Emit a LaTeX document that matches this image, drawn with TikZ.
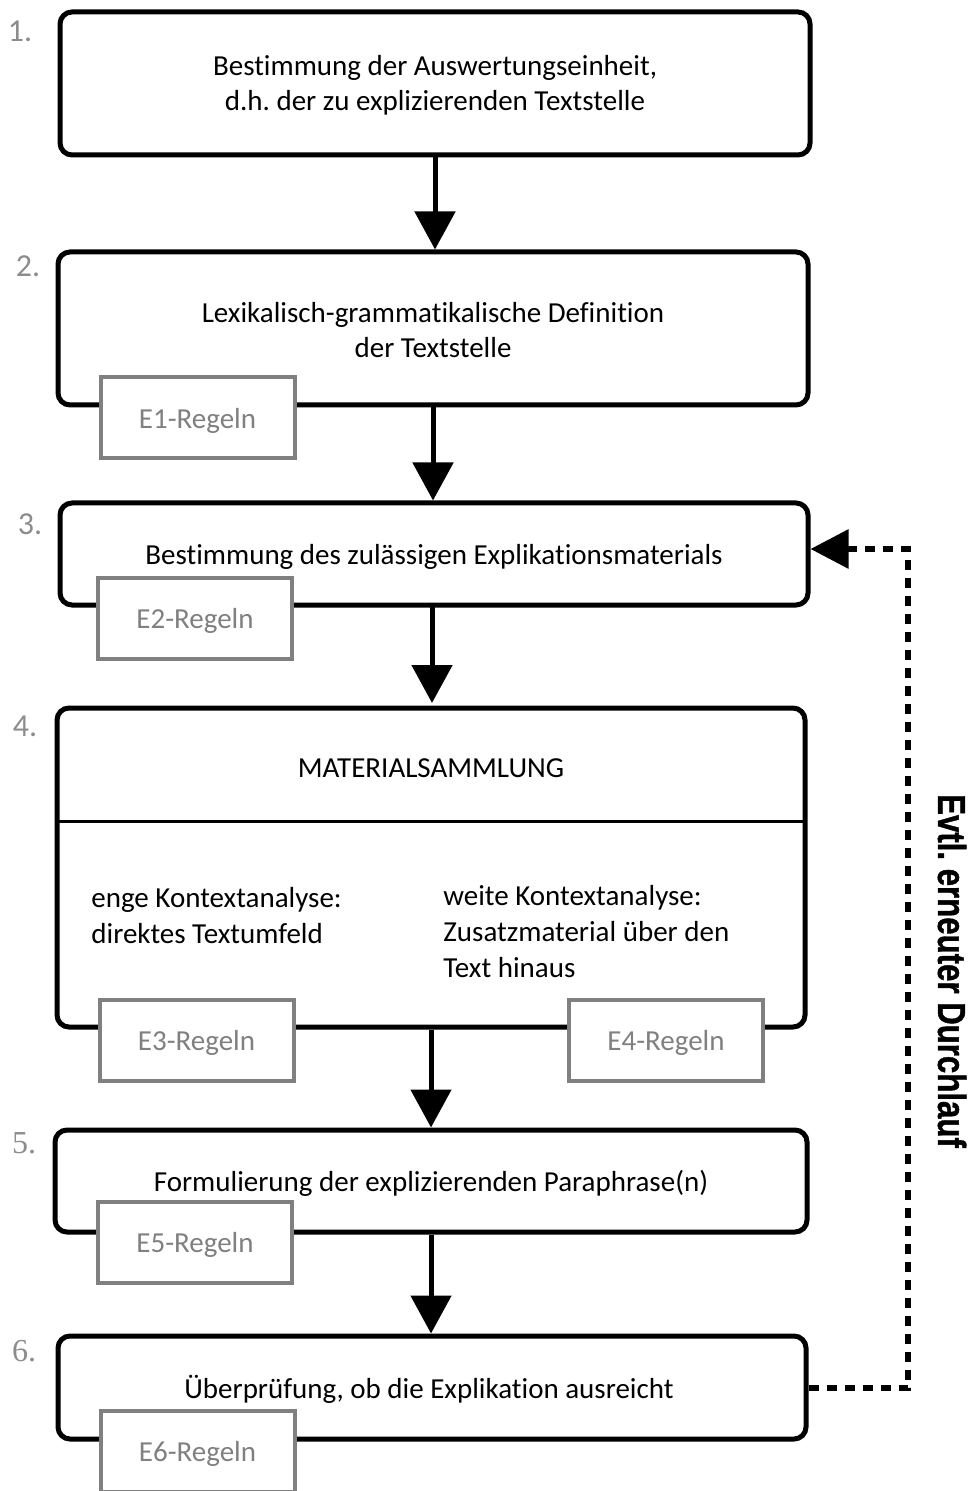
\documentclass[tikz,border=0pt]{standalone}
\usepackage{fontspec}
\setmainfont{Carlito}[Ligatures=NoCommon]
\newfontfamily\rotfont[FakeBold=1.2]{Liberation Sans Bold}
\newfontfamily\numserif{Liberation Serif}
\usetikzlibrary{arrows.meta}
\definecolor{egray}{RGB}{128,128,128}
\definecolor{ngray}{RGB}{140,140,140}
\tikzset{
  mainbox/.style={draw=black, line width=2.5pt, rounded corners=6pt, fill=white, inner sep=0pt},
  ebox/.style={draw=egray, line width=2pt, fill=white, minimum width=97pt, minimum height=40.5pt, inner sep=0pt, text=egray, font=\fontsize{14.5}{17.5}\selectfont, text depth=0pt},
  txt/.style={align=center, font=\fontsize{14.5}{17.5}\selectfont, inner sep=0pt, yshift=-1pt},
  ltxt/.style={align=left, font=\fontsize{14.5}{18}\selectfont, inner sep=0pt},
  num/.style={text=ngray, font=\fontsize{16}{16}\selectfont, inner sep=0pt},
  snum/.style={text=ngray, font=\numserif\fontsize{16}{16}\selectfont, inner sep=0pt},
  arr/.style={line width=2.5pt, -{Triangle[width=20pt,length=19pt]}},
  darr/.style={line width=3pt, dash pattern=on 5pt off 4pt, -{Triangle[width=19pt,length=19pt]}},
}
\frenchspacing
\begin{document}
\begin{tikzpicture}[x=0.5pt, y=-0.5pt]
\useasboundingbox (0,0) rectangle (968,1491);
% main boxes
\node[mainbox, minimum width=375pt, minimum height=71.5pt] (b1) at (435,83.5) {};
\node[mainbox, minimum width=375pt, minimum height=76.5pt] (b2) at (433,328.5) {};
\node[mainbox, minimum width=374pt, minimum height=51pt] (b3) at (434,554) {};
\node[mainbox, minimum width=374pt, minimum height=159.5pt] (b4) at (431,867.5) {};
\node[mainbox, minimum width=376pt, minimum height=51pt] (b5) at (431,1181) {};
\node[mainbox, minimum width=374pt, minimum height=51.5pt] (b6) at (432,1387.5) {};
% divider in box 4
\coordinate (d1) at (57,821);
\coordinate (d2) at (805,821);
\draw[line width=1.5pt] (d1) -- (d2);
% texts
\node[txt] (t1) at (435,83.5) {Bestimmung der Auswertungseinheit,\\d.h. der zu explizierenden Textstelle};
\node[txt] (t2) at (433,328) {Lexikalisch-grammatikalische Definition\\der Textstelle};
\node[txt] (t3) at (434,555) {Bestimmung des zulässigen Explikationsmaterials};
\node[txt] (t4) at (431,766) {MATERIALSAMMLUNG};
\node[ltxt, anchor=west] (t4a) at (91,916) {enge Kontextanalyse:\\direktes Textumfeld};
\node[ltxt, anchor=west] (t4b) at (443,932) {weite Kontextanalyse:\\Zusatzmaterial über den\\Text hinaus};
\node[txt] (t5) at (431,1181) {Formulierung der explizierenden Paraphrase(n)};
\node[txt] (t6) at (429,1387) {Überprüfung, ob die Explikation ausreicht};
% E boxes
\node[ebox] (e1) at (197.5,418) {E1-Regeln};
\node[ebox] (e2) at (195,618) {E2-Regeln};
\node[ebox] (e3) at (196.5,1040.5) {E3-Regeln};
\node[ebox] (e4) at (666,1040.5) {E4-Regeln};
\node[ebox] (e5) at (195,1242) {E5-Regeln};
\node[ebox] (e6) at (197.5,1451) {E6-Regeln};
% numbers
\node[num] (n1) at (20,31) {1.};
\node[num] (n2) at (28,266) {2.};
\node[num] (n3) at (30,524) {3.};
\node[num] (n4) at (25,726) {4.};
\node[snum] (n5) at (24,1143) {5.};
\node[snum] (n6) at (24,1351) {6.};
% arrows
\draw[arr] (b1.south) -- (b1.south |- b2.north);
\draw[arr] (b2.south) -- (b2.south |- b3.north);
\draw[arr] (432,605) -- (432,703);
\draw[arr] (b4.south) -- (b4.south |- b5.north);
\draw[arr] (b5.south) -- (b5.south |- b6.north);
% feedback loop
\coordinate (c1) at (908,1388);
\coordinate (c2) at (908,549);
\draw[darr] (b6.east |- c1) -- (c1) -- (c2) -- (b3.east |- c2);
\node[rotate=-90, inner sep=0pt] (lbl) at (952,971) {\rotfont\fontsize{19.5}{19.5}\selectfont\scalebox{0.8}[1]{Evtl. erneuter Durchlauf}};
\end{tikzpicture}
\end{document}
